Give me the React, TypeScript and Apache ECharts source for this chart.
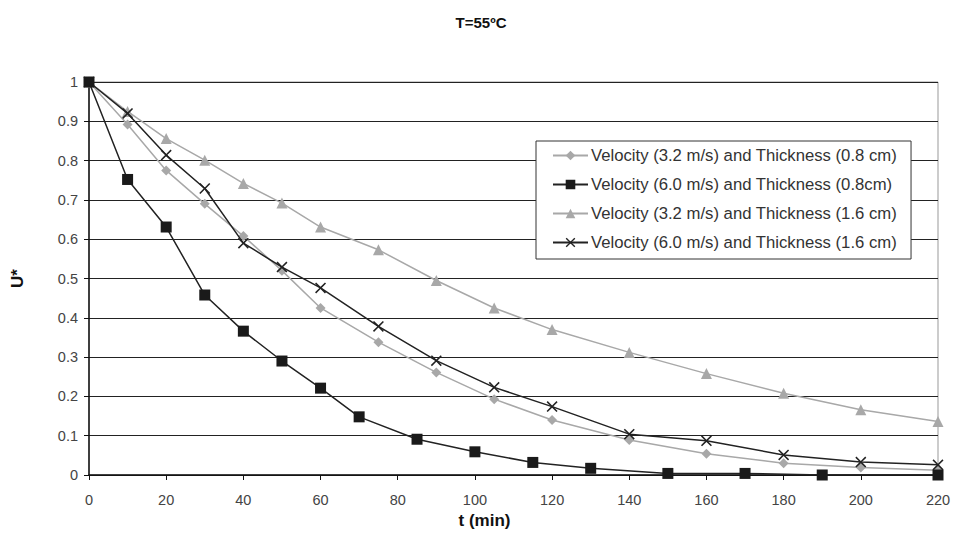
import React, { useEffect, useRef } from "react";
import * as echarts from "echarts";

const times1 = [0, 10, 20, 30, 40, 50, 60, 75, 90, 105, 120, 140, 160, 180, 200, 220];
const v32t08 = [1, 0.892, 0.775, 0.69, 0.608, 0.52, 0.425, 0.338, 0.261, 0.193, 0.14, 0.089, 0.054, 0.03, 0.019, 0.012];

const times2 = [0, 10, 20, 30, 40, 50, 60, 70, 85, 100, 115, 130, 150, 170, 190, 220];
const v60t08 = [1, 0.752, 0.631, 0.458, 0.366, 0.29, 0.221, 0.148, 0.091, 0.059, 0.032, 0.017, 0.004, 0.004, 0.0, 0.0];

const times3 = [0, 10, 20, 30, 40, 50, 60, 75, 90, 105, 120, 140, 160, 180, 200, 220];
const v32t16 = [1, 0.925, 0.856, 0.801, 0.742, 0.692, 0.631, 0.573, 0.495, 0.425, 0.37, 0.312, 0.258, 0.208, 0.166, 0.136];

const times4 = [0, 10, 20, 30, 40, 50, 60, 75, 90, 105, 120, 140, 160, 180, 200, 220];
const v60t16 = [1, 0.92, 0.814, 0.729, 0.59, 0.529, 0.476, 0.378, 0.291, 0.223, 0.174, 0.104, 0.087, 0.051, 0.033, 0.026];

const seriesNames = [
  "Velocity (3.2 m/s) and Thickness (0.8 cm)",
  "Velocity (6.0 m/s) and Thickness (0.8cm)",
  "Velocity (3.2 m/s) and Thickness (1.6 cm)",
  "Velocity (6.0 m/s) and Thickness (1.6 cm)",
];

const xTicks = [0, 20, 40, 60, 80, 100, 120, 140, 160, 180, 200, 220];
const yTicks = [0, 0.1, 0.2, 0.3, 0.4, 0.5, 0.6, 0.7, 0.8, 0.9, 1];

const zip = (xs: number[], ys: number[]) => xs.map((x, i) => [x, ys[i]]);

const FONT = "'Liberation Sans', Arial, sans-serif";
const GREY = "#a8a8a8";
const BLACK = "#1a1a1a";
const CROSS = "path://M0,1 L1,0 L5,4 L9,0 L10,1 L6,5 L10,9 L9,10 L5,6 L1,10 L0,9 L4,5 Z";

export default function App() {
  const ref = useRef<HTMLDivElement>(null);
  useEffect(() => {
    if (!ref.current) return;
    const chart = echarts.init(ref.current, undefined, { renderer: "svg" });
    chart.setOption({
      animation: false,
      backgroundColor: "#fff",
      textStyle: { fontFamily: FONT },
      title: {
        text: "T=55ºC",
        left: 476,
        top: 10,
        textAlign: "center",
        textStyle: { fontFamily: FONT, fontSize: 15, fontWeight: "bold", color: "#111" },
      },
      grid: {
        left: 89,
        right: 26,
        top: 82,
        bottom: 67,
        show: true,
        borderColor: "#999",
        borderWidth: 1,
      },
      legend: {
        orient: "vertical",
        left: 536,
        top: 141,
        padding: [6, 14, 8, 16],
        itemGap: 12,
        itemWidth: 35,
        itemHeight: 12,
        backgroundColor: "#fff",
        borderColor: "#333",
        borderWidth: 1,
        textStyle: { fontFamily: FONT, fontSize: 16.7, color: "#333", padding: [0, 0, 0, -2] },
        data: seriesNames,
      },
      xAxis: {
        type: "value",
        min: xTicks[0],
        max: xTicks[xTicks.length - 1],
        interval: 20,
        name: "t (min)",
        nameLocation: "middle",
        nameGap: 29,
        nameTextStyle: {
          fontFamily: FONT,
          fontSize: 17,
          fontWeight: "bold",
          color: "#111",
          padding: [0, 58, 0, 0],
        },
        axisLine: { show: true, lineStyle: { color: "#111", width: 1.5 } },
        axisTick: { show: true, length: 5, lineStyle: { color: "#111" } },
        axisLabel: { fontFamily: FONT, fontSize: 14.5, color: "#444", margin: 17 },
        splitLine: { show: false },
      },
      yAxis: {
        type: "value",
        min: yTicks[0],
        max: yTicks[yTicks.length - 1],
        interval: 0.1,
        name: "U*",
        nameLocation: "middle",
        nameRotate: 90,
        nameGap: 63,
        nameTextStyle: { fontFamily: FONT, fontSize: 17, fontWeight: "bold", color: "#111" },
        axisLine: { show: true, lineStyle: { color: "#111", width: 1.5 } },
        axisTick: { show: true, length: 5, lineStyle: { color: "#111" } },
        axisLabel: { fontFamily: FONT, fontSize: 14.5, color: "#444", margin: 11 },
        splitLine: { show: true, lineStyle: { color: "#222", width: 1.2 } },
      },
      series: [
        {
          name: seriesNames[0],
          type: "line",
          data: zip(times1, v32t08),
          symbol: "diamond",
          symbolSize: 10,
          itemStyle: { color: GREY },
          lineStyle: { color: GREY, width: 1.5 },
          z: 2,
        },
        {
          name: seriesNames[1],
          type: "line",
          data: zip(times2, v60t08),
          symbol: "rect",
          symbolSize: 11,
          itemStyle: { color: BLACK },
          lineStyle: { color: "#222", width: 1.5 },
          z: 4,
        },
        {
          name: seriesNames[2],
          type: "line",
          data: zip(times3, v32t16),
          symbol: "triangle",
          symbolSize: 11,
          itemStyle: { color: GREY },
          lineStyle: { color: GREY, width: 1.5 },
          z: 2,
        },
        {
          name: seriesNames[3],
          type: "line",
          data: zip(times4, v60t16),
          symbol: CROSS,
          symbolSize: 11,
          itemStyle: { color: "#222" },
          lineStyle: { color: "#222", width: 1.5 },
          z: 3,
        },
      ],
    });
    return () => chart.dispose();
  }, []);
  return <div ref={ref} style={{ width: 964, height: 542, position: "absolute", left: 0, top: 0 }} />;
}
